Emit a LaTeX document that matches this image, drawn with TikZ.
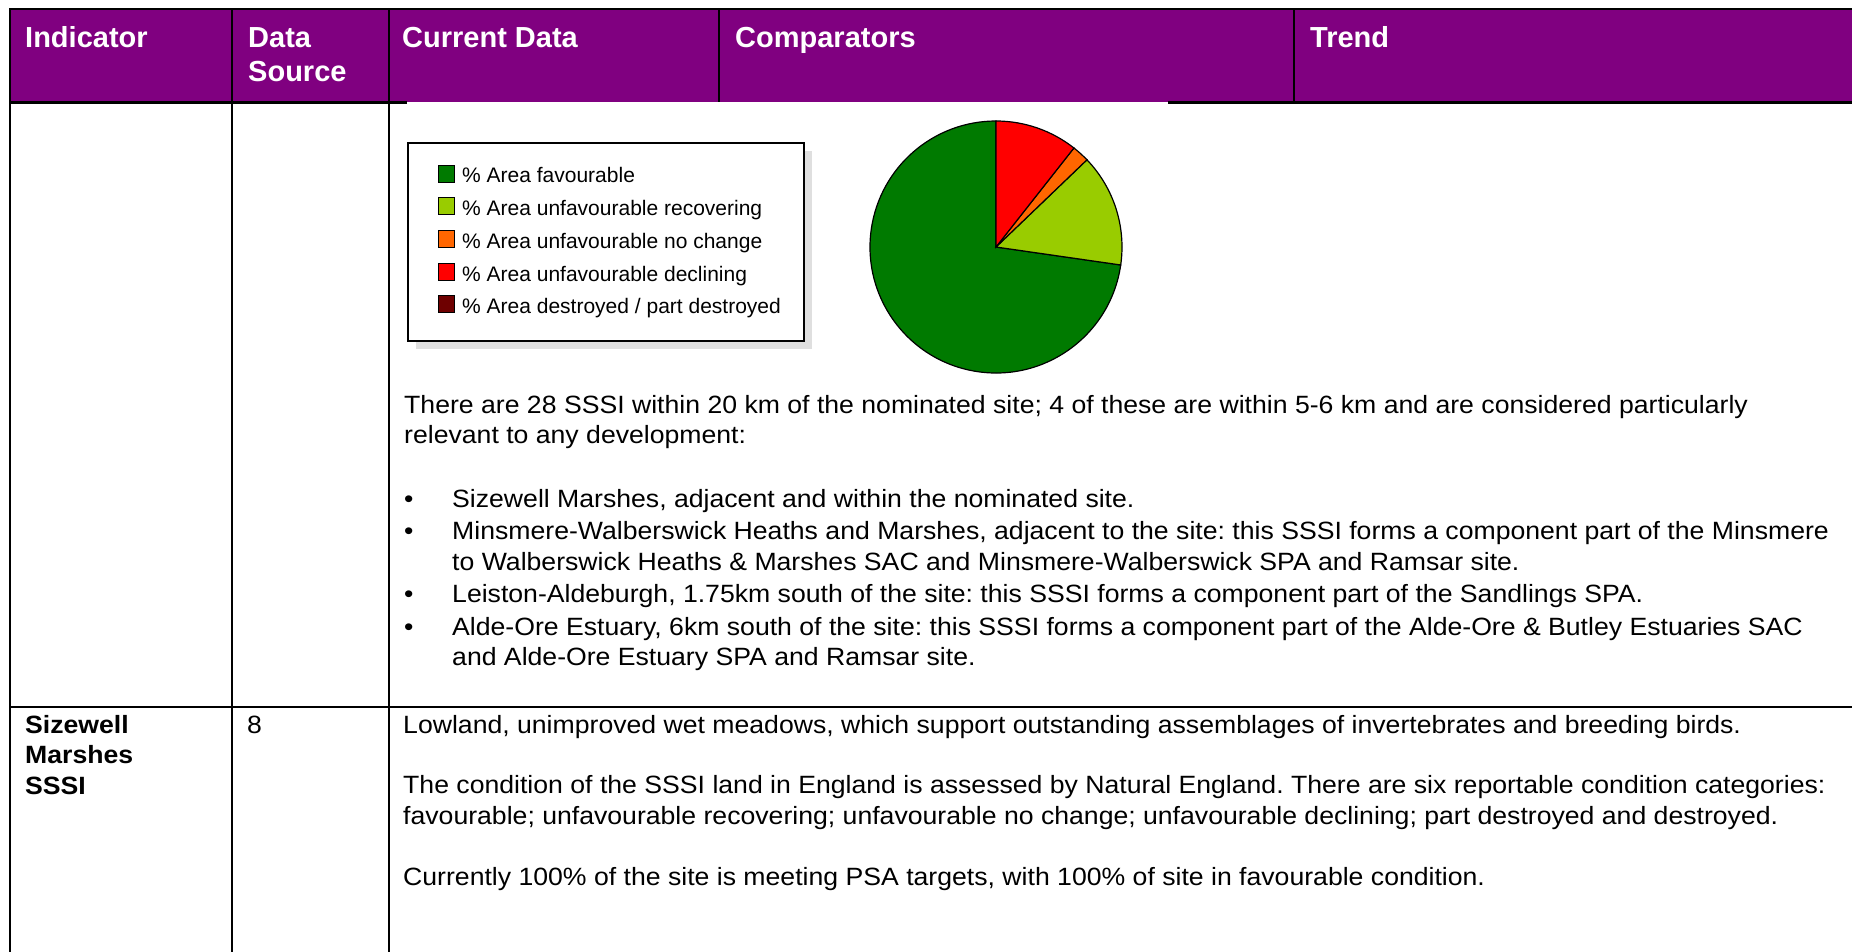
\documentclass[tikz,border=0pt]{standalone}
\usepackage{fontspec}
\setmainfont{Liberation Sans}
\newfontfamily\bodyfont[FakeStretch=1.065]{Liberation Sans}
\frenchspacing
\definecolor{hdrPurple}{HTML}{800080}
\definecolor{pieGreen}{HTML}{007A00}
\definecolor{pieLime}{HTML}{99CC00}
\definecolor{pieOrange}{HTML}{FF6600}
\definecolor{pieRed}{HTML}{FF0000}
\definecolor{pieMaroon}{HTML}{6E0000}
\tikzset{
  hdr/.style={anchor=base west, inner sep=0pt, text=white, font=\fontsize{29}{33}\selectfont\bfseries},
  txt/.style={anchor=base west, inner sep=0pt, font=\bodyfont\fontsize{25}{29}\selectfont},
  bld/.style={anchor=base west, inner sep=0pt, font=\bodyfont\fontsize{25}{29}\selectfont\bfseries},
  lgd/.style={anchor=base west, inner sep=0pt, font=\fontsize{21}{24}\selectfont},
  swatch/.style={draw=black, line width=1pt, minimum width=16pt, minimum height=17pt, inner sep=0pt, anchor=south west},
  rule/.style={line width=2.5pt}
}
\begin{document}
\begin{tikzpicture}[x=1pt, y=-1pt]
  \useasboundingbox (0,0) rectangle (1852,952);
  \fill[hdrPurple] (9,9) rectangle (1852,102);
  \begin{scope}[rule]
    \draw (9,9) -- (1852,9);
    \draw (9,102.5) -- (407,102.5);
    \draw (1168,102.5) -- (1852,102.5);
    \draw (10,9) -- (10,952);
    \draw (232,9) -- (232,952);
    \draw (389,9) -- (389,952);
    \draw (719,9) -- (719,102);
    \draw (1294,9) -- (1294,102);
    \draw (10,707) -- (1852,707);
  \end{scope}

  \node[hdr] (hind) at (25,48) {Indicator};
  \node[hdr] (hdata) at (248,48) {Data};
  \node[hdr] (hsrc) at (248,82) {Source};
  \node[hdr] (hcur) at (402,48) {Current Data};
  \node[hdr] (hcmp) at (735,48) {Comparators};
  \node[hdr] (htrd) at (1310,48) {Trend};

  \fill[gray!25] (416,151) rectangle (812,349);
  \filldraw[fill=white, draw=black, line width=1.5pt] (408,143) rectangle (804,341);
  \node[swatch, fill=pieGreen] (sw1) at (438,183) {};
  \node[swatch, fill=pieLime] (sw2) at (438,215) {};
  \node[swatch, fill=pieOrange] (sw3) at (438,248) {};
  \node[swatch, fill=pieRed] (sw4) at (438,281) {};
  \node[swatch, fill=pieMaroon] (sw5) at (438,313) {};
  \node[lgd] (lg1) at (462,183) {\% Area favourable};
  \node[lgd] (lg2) at (462,215) {\% Area unfavourable recovering};
  \node[lgd] (lg3) at (462,248) {\% Area unfavourable no change};
  \node[lgd] (lg4) at (462,281) {\% Area unfavourable declining};
  \node[lgd] (lg5) at (462,313) {\% Area destroyed / part destroyed};

  \begin{scope}[shift={(996,247)}, yscale=-1, line width=1.2pt]
    \filldraw[fill=pieGreen] (0,0) -- (-8.2:126) arc[start angle=-8.2, end angle=-270, radius=126] -- cycle;
    \filldraw[fill=pieLime] (0,0) -- (43.8:126) arc[start angle=43.8, end angle=-8.2, radius=126] -- cycle;
    \filldraw[fill=pieOrange] (0,0) -- (51.8:126) arc[start angle=51.8, end angle=43.8, radius=126] -- cycle;
    \filldraw[fill=pieRed] (0,0) -- (90:126) arc[start angle=90, end angle=51.8, radius=126] -- cycle;
  \end{scope}

  \node[txt] (p1) at (404,413) {There are 28 SSSI within 20 km of the nominated site; 4 of these are within 5-6 km and are considered particularly};
  \node[txt] (p2) at (404,443) {relevant to any development:};
  \node[txt] (b1) at (404,507) {\textbullet};
  \node[txt] (b2) at (404,539) {\textbullet};
  \node[txt] (b3) at (404,602) {\textbullet};
  \node[txt] (b4) at (404,635) {\textbullet};
  \node[txt] (l1) at (452,507) {Sizewell Marshes, adjacent and within the nominated site.};
  \node[txt] (l2) at (452,539) {Minsmere-Walberswick Heaths and Marshes, adjacent to the site: this SSSI forms a component part of the Minsmere};
  \node[txt] (l2b) at (452,570) {to Walberswick Heaths \& Marshes SAC and Minsmere-Walberswick SPA and Ramsar site.};
  \node[txt] (l3) at (452,602) {Leiston-Aldeburgh, 1.75km south of the site: this SSSI forms a component part of the Sandlings SPA.};
  \node[txt] (l4) at (452,635) {Alde-Ore Estuary, 6km south of the site: this SSSI forms a component part of the Alde-Ore \& Butley Estuaries SAC};
  \node[txt] (l4b) at (452,665) {and Alde-Ore Estuary SPA and Ramsar site.};

  \node[bld] (ind1) at (25,733) {Sizewell};
  \node[bld] (ind2) at (25,763) {Marshes};
  \node[bld] (ind3) at (25,794) {SSSI};
  \node[txt] (src) at (247,733) {8};
  \node[txt] (q1) at (403,733) {Lowland, unimproved wet meadows, which support outstanding assemblages of invertebrates and breeding birds.};
  \node[txt] (q2) at (403,793) {The condition of the SSSI land in England is assessed by Natural England. There are six reportable condition categories:};
  \node[txt] (q3) at (403,824) {favourable; unfavourable recovering; unfavourable no change; unfavourable declining; part destroyed and destroyed.};
  \node[txt] (q4) at (403,885) {Currently 100\% of the site is meeting PSA targets, with 100\% of site in favourable condition.};
\end{tikzpicture}
\end{document}
